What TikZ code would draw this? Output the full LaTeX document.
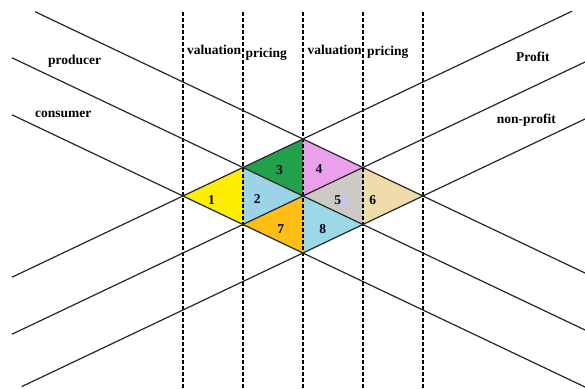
\documentclass[tikz,border=0pt]{standalone}
\usepackage{fontspec}
\setmainfont{Liberation Serif}
\definecolor{cY}{RGB}{255,238,0}
\definecolor{cTwo}{RGB}{157,211,230}
\definecolor{cG}{RGB}{34,160,76}
\definecolor{cP}{RGB}{236,160,236}
\definecolor{cGr}{RGB}{205,202,197}
\definecolor{cW}{RGB}{238,221,170}
\definecolor{cO}{RGB}{255,190,20}
\definecolor{cEight}{RGB}{155,217,230}
\definecolor{cLav}{RGB}{200,195,240}
\begin{document}
\begin{tikzpicture}[x=1pt,y=-1pt,
  solidline/.style={line width=1.2pt,draw=black!85},
  dashline/.style={line width=1.1pt,draw=black,dash pattern=on 3.5pt off 2.5pt},
  lbl/.style={font=\fontsize{13.5}{15}\selectfont\bfseries,anchor=base west,inner sep=0pt},
  num/.style={font=\fontsize{13.5}{15}\selectfont\bfseries,inner sep=0pt,text=black!90!blue}]
\useasboundingbox (0,0) rectangle (585,388);
% vertices
\coordinate (L) at (183,196);
\coordinate (TL) at (243,167.5);
\coordinate (BL) at (243,224.5);
\coordinate (T) at (303,139);
\coordinate (C) at (303,196);
\coordinate (B) at (303,253);
\coordinate (TR) at (363,167.5);
\coordinate (BR) at (363,224.5);
\coordinate (R) at (423,196);
% triangles
\fill[cY] (L) -- (TL) -- (BL) -- cycle;
\fill[cTwo] (TL) -- (C) -- (BL) -- cycle;
\fill[cG] (TL) -- (T) -- (C) -- cycle;
\fill[cP] (T) -- (TR) -- (C) -- cycle;
\fill[cGr] (C) -- (TR) -- (BR) -- cycle;
\fill[cW] (TR) -- (R) -- (BR) -- cycle;
\fill[cO] (BL) -- (C) -- (B) -- cycle;
\fill[cEight] (C) -- (BR) -- (B) -- cycle;
% line ends
\coordinate (Da1) at (35,11.7);   \coordinate (Da2) at (585,273);
\coordinate (Db1) at (12,57.8);   \coordinate (Db2) at (585,330);
\coordinate (Dc1) at (12,114.8);  \coordinate (Dc2) at (585,387);
\coordinate (Aa1) at (12,277.2);  \coordinate (Aa2) at (572,11.2);
\coordinate (Ab1) at (12,334.2);  \coordinate (Ab2) at (585,62);
\coordinate (Ac1) at (21.7,386.6);\coordinate (Ac2) at (585,119);
% dashed verticals
\foreach \x/\n in {183/v1,243/v2,303/v3,363/v4,423/v5}{
  \coordinate (\n a) at (\x,12); \coordinate (\n b) at (\x,388);
  \draw[dashline] (\n a) -- (\n b);
}
% solid lines
\draw[solidline] (Da1) -- (Da2);
\draw[solidline] (Db1) -- (Db2);
\draw[solidline] (Dc1) -- (Dc2);
\draw[solidline] (Aa1) -- (Aa2);
\draw[solidline] (Ab1) -- (Ab2);
\draw[solidline] (Ac1) -- (Ac2);
% small artifact square near 5
\fill[cLav] (342,194.5) rectangle (347,205);
% numbers
\node[num] (n1) at (211.5,200.5) {1};
\node[num] (n2) at (257.3,199) {2};
\node[num] (n3) at (279.5,170) {3};
\node[num] (n4) at (319,169) {4};
\node[num] (n5) at (337.7,200) {5};
\node[num] (n6) at (372.7,200.5) {6};
\node[num] (n7) at (280.7,229) {7};
\node[num] (n8) at (322.7,229) {8};
% labels
\node[lbl] (prod) at (48,64) {producer};
\node[lbl] (cons) at (35,117.3) {consumer};
\node[lbl] (val1) at (187,54.3) {valuation};
\node[lbl] (pri1) at (245.5,57) {pricing};
\node[lbl] (val2) at (307.5,54.3) {valuation};
\node[lbl] (pri2) at (367,55) {pricing};
\node[lbl] (prof) at (516,61.7) {Profit};
\node[lbl] (nonp) at (496.7,123) {non-profit};
\end{tikzpicture}
\end{document}
